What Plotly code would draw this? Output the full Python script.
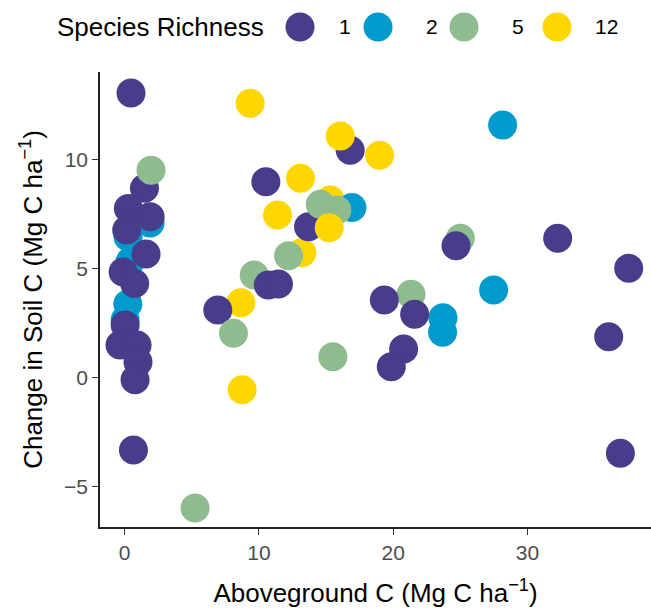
import plotly.graph_objects as go

# Data (drawing order matters: later points are drawn on top)
aboveground_c = [15.31, 13.2, 8.66,
                 1.9, 0.26, 0.41, 0.24, 0.04, 16.93, 28.15, 27.48, 23.71, 23.68,
                 9.65, 25.0, 21.33,
                 0.48, 1.48, 0.28, 1.9, 0.16, 1.6, -0.11, 0.75, 0.04, -0.34, 0.93, 1.0, 0.78, 0.66,
                 16.8, 10.52, 13.7, 10.7, 11.46, 6.94, 24.68, 32.25, 37.54, 19.34, 21.6, 36.05,
                 20.78, 19.86, 36.92,
                 1.97, 15.81, 14.57, 12.21, 8.11, 15.51, 5.25,
                 9.35, 16.06, 18.99, 13.1, 11.39, 15.24, 8.76]
soil_c_change = [8.16, 5.74, 3.44,
                 7.1, 6.46, 5.33, 3.38, 2.65, 7.82, 11.6, 4.03, 2.75, 2.08,
                 4.72, 6.4, 3.83,
                 13.07, 8.7, 7.77, 7.39, 6.78, 5.68, 4.85, 4.33, 2.42, 1.5, 1.5, 0.72, -0.1, -3.32,
                 10.45, 9.0, 6.93, 4.26, 4.3, 3.11, 6.06, 6.4, 5.02, 3.57, 2.91, 1.88,
                 1.32, 0.5, -3.47,
                 9.53, 7.7, 7.97, 5.6, 2.04, 0.96, -5.99,
                 12.6, 11.1, 10.22, 9.16, 7.47, 6.89, -0.56]
richness = [12, 12, 12,
            2, 2, 2, 2, 2, 2, 2, 2, 2, 2,
            5, 5, 5,
            1, 1, 1, 1, 1, 1, 1, 1, 1, 1, 1, 1, 1, 1,
            1, 1, 1, 1, 1, 1, 1, 1, 1, 1, 1, 1,
            1, 1, 1,
            5, 5, 5, 5, 5, 5, 5,
            12, 12, 12, 12, 12, 12, 12]

levels = [1, 2, 5, 12]
palette = {1: "#483D8B", 2: "#009ACD", 5: "#8FBC8F", 12: "#FFD700"}

x_ticks = [0, 10, 20, 30]
y_ticks = [-5, 0, 5, 10]

W, H = 651, 608
ML, MR, MT, MB = 100, 0, 72, 81
PW, PH = W - ML - MR, H - MT - MB

FONT = "Liberation Sans, Arial, Helvetica, sans-serif"
TITLE_SIZE = 26
TICK_SIZE = 21

fig = go.Figure()
fig.add_trace(go.Scatter(
    x=aboveground_c, y=soil_c_change, mode="markers",
    marker=dict(size=29, color=[palette[r] for r in richness], line=dict(width=0), opacity=1),
    showlegend=False, hoverinfo="x+y",
))

def px_to_paper(px, py):
    return (px - ML) / PW, (H - MB - py) / PH

# Custom legend (large keys like the reference)
legend_y = 27
key_x = [300, 378, 464, 557]
label_x = [345, 432, 518, 606]
shapes = []
annotations = []
lx, ly = px_to_paper(55, legend_y)
annotations.append(dict(text="Species Richness", x=lx, y=ly, xref="paper", yref="paper",
                        xanchor="left", yanchor="middle", showarrow=False,
                        font=dict(size=TITLE_SIZE, color="black", family=FONT)))
for lev, kx, tx in zip(levels, key_x, label_x):
    ax, ay = px_to_paper(kx, legend_y)
    shapes.append(dict(type="circle", xref="paper", yref="paper",
                       xsizemode="pixel", ysizemode="pixel", xanchor=ax, yanchor=ay,
                       x0=-14.5, x1=14.5, y0=-14.5, y1=14.5,
                       fillcolor=palette[lev], line=dict(width=0)))
    tx_, ty_ = px_to_paper(tx, legend_y)
    annotations.append(dict(text=str(lev), x=tx_, y=ty_, xref="paper", yref="paper",
                            xanchor="center", yanchor="middle", showarrow=False,
                            font=dict(size=TICK_SIZE, color="black", family=FONT)))

fig.update_layout(
    width=W, height=H,
    margin=dict(l=ML, r=MR, t=MT, b=MB, autoexpand=False),
    plot_bgcolor="white", paper_bgcolor="white",
    font=dict(family=FONT, color="black"),
    showlegend=False,
    shapes=shapes, annotations=annotations,
    xaxis=dict(range=[-1.83, 39.2], tickvals=x_ticks, showgrid=False, zeroline=False,
               automargin=False,
               showline=True, linecolor="#222222", linewidth=1.6,
               ticks="outside", ticklen=6, tickwidth=1.3, tickcolor="#333333",
               tickfont=dict(size=TICK_SIZE, color="#4D4D4D"),
               title=dict(text="Aboveground C (Mg C ha<sup>−1</sup>)",
                          font=dict(size=TITLE_SIZE, color="black"), standoff=24)),
    yaxis=dict(range=[-6.86, 14.04], tickvals=y_ticks, showgrid=False, zeroline=False,
               automargin=False,
               showline=True, linecolor="#222222", linewidth=1.6,
               ticks="outside", ticklen=6, tickwidth=1.3, tickcolor="#333333",
               tickfont=dict(size=TICK_SIZE, color="#4D4D4D"),
               title=dict(text="Change in Soil C (Mg C ha<sup>−1</sup>)",
                          font=dict(size=TITLE_SIZE, color="black"), standoff=14)),
)

fig.write_html("out.html", config={"displayModeBar": False},
               post_script="document.body.style.margin='0';document.body.style.padding='0';")
